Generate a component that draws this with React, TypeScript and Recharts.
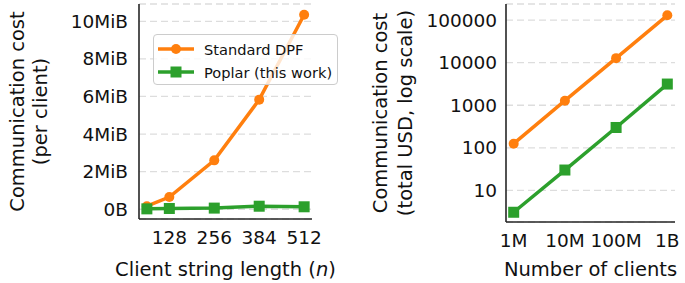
import React from 'react';
import {
  LineChart,
  Line,
  XAxis,
  YAxis,
  CartesianGrid,
  Legend,
} from 'recharts';

// left panel: per-client cost vs string length
const stringLengths = [64, 128, 256, 384, 512];
const dpfMiB = [0.16, 0.65, 2.6, 5.83, 10.35];
const poplarMiB = [0.02, 0.04, 0.06, 0.16, 0.13];
const lengthTicks = [128, 256, 384, 512];
const mibTicks = [0, 2, 4, 6, 8, 10];
const mibTickLabels = ['0B', '2MiB', '4MiB', '6MiB', '8MiB', '10MiB'];

// right panel: total cost vs number of clients
const clientCounts = [1e6, 1e7, 1e8, 1e9];
const clientTickLabels = ['1M', '10M', '100M', '1B'];
const dpfUSD = [125, 1280, 12800, 130000];
const poplarUSD = [3.05, 30, 300, 3150];
const usdTicks = [10, 100, 1000, 10000, 100000];

const seriesNames = ['Standard DPF', 'Poplar (this work)'];

const ORANGE = '#ff7f0e';
const GREEN = '#2ca02c';
const FONT = 'DejaVu Sans';
const INK = '#111';
const AXIS = '#262626';

const leftData = stringLengths.map((n, i) => ({ n, dpf: dpfMiB[i], poplar: poplarMiB[i] }));
const rightData = clientCounts.map((c, i) => ({ c, dpf: dpfUSD[i], poplar: poplarUSD[i] }));

const tickStyle = { fontFamily: FONT, fontSize: 18.5, fill: INK };

const SquareDot = (props: any) => {
  const { cx, cy } = props;
  if (cx == null || cy == null) return null;
  return <rect x={cx - 5.5} y={cy - 5.5} width={11} height={11} fill={GREEN} />;
};

const XLabel = ({ viewBox, parts, dy }: any) => {
  const { x, y, width } = viewBox;
  return (
    <text x={x + width / 2} y={y + dy} textAnchor="middle" fontFamily={FONT} fontSize={19.5} fill={INK}>
      {parts.map((p: any, i: number) => (
        <tspan key={i} fontStyle={p.italic ? 'italic' : 'normal'}>{p.t}</tspan>
      ))}
    </text>
  );
};

const YLabel = ({ viewBox, lines, xs }: any) => {
  const cy = viewBox.y + viewBox.height / 2;
  return (
    <g>
      {lines.map((l: string, i: number) => (
        <text
          key={i}
          x={xs[i]}
          y={cy}
          transform={`rotate(-90 ${xs[i]} ${cy})`}
          textAnchor="middle"
          fontFamily={FONT}
          fontSize={19.5}
          fill={INK}
        >
          {l}
        </text>
      ))}
    </g>
  );
};

const LegendBox = () => (
  <div
    style={{
      width: 183,
      height: 49,
      background: 'rgba(255,255,255,0.8)',
      border: '1px solid #cccccc',
      borderRadius: 4,
      fontFamily: FONT,
      fontSize: 14.6,
      color: INK,
      position: 'relative',
    }}
  >
    {seriesNames.map((name, i) => (
      <div key={name} style={{ position: 'absolute', left: 3, top: 4 + i * 23, height: 20, display: 'flex', alignItems: 'center' }}>
        <svg width={38} height={20} style={{ display: 'block' }}>
          <line x1={1} y1={10} x2={37} y2={10} stroke={i === 0 ? ORANGE : GREEN} strokeWidth={3.5} />
          {i === 0 ? (
            <circle cx={19} cy={10} r={5} fill={ORANGE} />
          ) : (
            <rect x={13.5} y={4.5} width={11} height={11} fill={GREEN} />
          )}
        </svg>
        <span style={{ marginLeft: 9, whiteSpace: 'nowrap' }}>{name}</span>
      </div>
    ))}
  </div>
);

export default function App() {
  return (
    <div style={{ position: 'absolute', left: 0, top: 0, width: 685, height: 283, background: '#fff' }}>
      <div style={{ position: 'absolute', left: 0, top: 0 }}>
        <LineChart width={340} height={283} data={leftData} margin={{ top: 4, right: 28, bottom: 0, left: 0 }}>
          <CartesianGrid vertical={false} stroke="#dddddd" strokeDasharray="7 4" strokeWidth={1.3} />
          <XAxis
            dataKey="n"
            type="number"
            domain={[41.6, 534.4]}
            ticks={lengthTicks}
            height={64}
            tickLine={false}
            tickMargin={6}
            tick={tickStyle}
            axisLine={{ stroke: AXIS, strokeWidth: 1.6 }}
            label={<XLabel dy={57} parts={[{ t: 'Client string length (' }, { t: 'n', italic: true }, { t: ')' }]} />}
          />
          <YAxis
            type="number"
            domain={[-0.52, 10.92]}
            ticks={mibTicks}
            width={139}
            tickLine={false}
            tickMargin={5}
            tick={tickStyle}
            tickFormatter={(v: number) => mibTickLabels[mibTicks.indexOf(v)]}
            axisLine={{ stroke: AXIS, strokeWidth: 1.6 }}
            label={<YLabel lines={['Communication cost', '(per client)']} xs={[24, 47]} />}
          />
          <Line dataKey="dpf" stroke={ORANGE} strokeWidth={3.5} dot={{ r: 5, fill: ORANGE, stroke: 'none' }} isAnimationActive={false} />
          <Line dataKey="poplar" stroke={GREEN} strokeWidth={3.5} dot={<SquareDot />} isAnimationActive={false} />
          <Legend
            layout="vertical"
            align="center"
            verticalAlign="middle"
            content={<LegendBox />}
            wrapperStyle={{ position: 'absolute', left: 153, top: 34, width: 185 }}
          />
        </LineChart>
      </div>
      <div style={{ position: 'absolute', left: 345, top: 0 }}>
        <LineChart width={340} height={283} data={rightData} margin={{ top: 4, right: 10, bottom: 0, left: 0 }}>
          <CartesianGrid vertical={false} stroke="#dddddd" strokeDasharray="7 4" strokeWidth={1.3} />
          <XAxis
            dataKey="c"
            type="number"
            scale="log"
            domain={[707946, 1412538000]}
            ticks={clientCounts}
            height={61}
            tickLine={false}
            tickMargin={6}
            tick={tickStyle}
            tickFormatter={(v: number) => clientTickLabels[clientCounts.indexOf(v)]}
            axisLine={{ stroke: AXIS, strokeWidth: 1.6 }}
            label={<XLabel dy={54} parts={[{ t: 'Number of clients' }]} />}
            allowDataOverflow
          />
          <YAxis
            type="number"
            scale="log"
            domain={[1.8, 240000]}
            ticks={usdTicks}
            width={161}
            tickLine={false}
            tickMargin={3}
            tick={tickStyle}
            axisLine={{ stroke: AXIS, strokeWidth: 1.6 }}
            label={<YLabel lines={['Communication cost', '(total USD, log scale)']} xs={[42, 67]} />}
            allowDataOverflow
          />
          <Line dataKey="dpf" stroke={ORANGE} strokeWidth={3.5} dot={{ r: 5, fill: ORANGE, stroke: 'none' }} isAnimationActive={false} />
          <Line dataKey="poplar" stroke={GREEN} strokeWidth={3.5} dot={<SquareDot />} isAnimationActive={false} />
        </LineChart>
      </div>
    </div>
  );
}
